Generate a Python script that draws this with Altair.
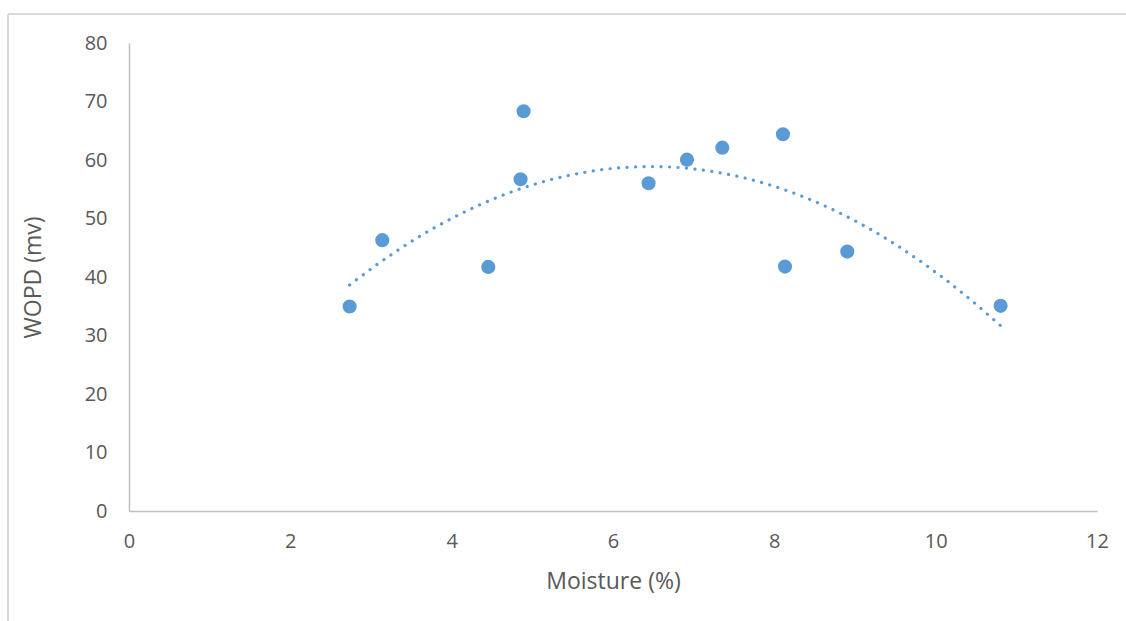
import altair as alt
import pandas as pd

# Moisture content (%) and WOPD (mv) readings
moisture = [2.735, 3.14, 4.454, 4.854, 4.892, 6.441, 6.917, 7.355, 8.107, 8.132, 8.904, 10.805]
wopd = [34.95, 46.3, 41.73, 56.71, 68.33, 56.03, 60.06, 62.11, 64.40, 41.78, 44.35, 35.07]

x_ticks = [0, 2, 4, 6, 8, 10, 12]
y_ticks = [0, 10, 20, 30, 40, 50, 60, 70, 80]

df = pd.DataFrame({"moisture": moisture, "wopd": wopd})

BLUE = "#5B9BD5"
TEXT = "#595959"
FONT = "Open Sans"

x_enc = alt.X(
    "moisture:Q",
    scale=alt.Scale(domain=[0, 12], nice=False, zero=False),
    axis=alt.Axis(
        values=x_ticks, format="d", title="Moisture (%)", grid=False, ticks=False,
        labelFlush=False, labelPadding=20, titlePadding=19,
    ),
)
y_enc = alt.Y(
    "wopd:Q",
    scale=alt.Scale(domain=[0, 80], nice=False),
    axis=alt.Axis(
        values=y_ticks, format="d", title="WOPD (mv)", grid=False, ticks=False,
        labelFlush=False, labelPadding=22, titlePadding=39,
    ),
)

points = alt.Chart(df).mark_circle(size=200, opacity=1, color=BLUE).encode(x=x_enc, y=y_enc)

# Second-order polynomial trend line
trend = (
    alt.Chart(df)
    .transform_regression("moisture", "wopd", method="poly", order=2)
    .mark_line(color=BLUE, strokeWidth=3.2, strokeDash=[0.1, 8.4], strokeCap="round")
    .encode(x="moisture:Q", y="wopd:Q")
)

# Light outer frame of the chart
frame_left = alt.Chart(df).mark_rule(color="#D9D9D9", strokeWidth=2).encode(
    x=alt.value(-121), y=alt.value(-29), y2=alt.value(700)
)
frame_top = alt.Chart(df).mark_rule(color="#D9D9D9", strokeWidth=2).encode(
    y=alt.value(-29), x=alt.value(-121), x2=alt.value(1200)
)

chart = (
    alt.layer(frame_left, frame_top, points, trend)
    .properties(
        width=968,
        height=468,
        autosize=alt.AutoSizeParams(type="none"),
        padding={"left": 129, "top": 43, "right": 29, "bottom": 110},
    )
    .configure_view(stroke=None)
    .configure_axis(
        domainColor="#BFBFBF",
        domainWidth=1.5,
        labelFont=FONT,
        labelFontSize=20,
        labelColor=TEXT,
        titleFont=FONT,
        titleFontSize=23,
        titleFontWeight="normal",
        titleColor=TEXT,
    )
)

chart.save("out.html", embed_options={"renderer": "svg", "actions": False})
